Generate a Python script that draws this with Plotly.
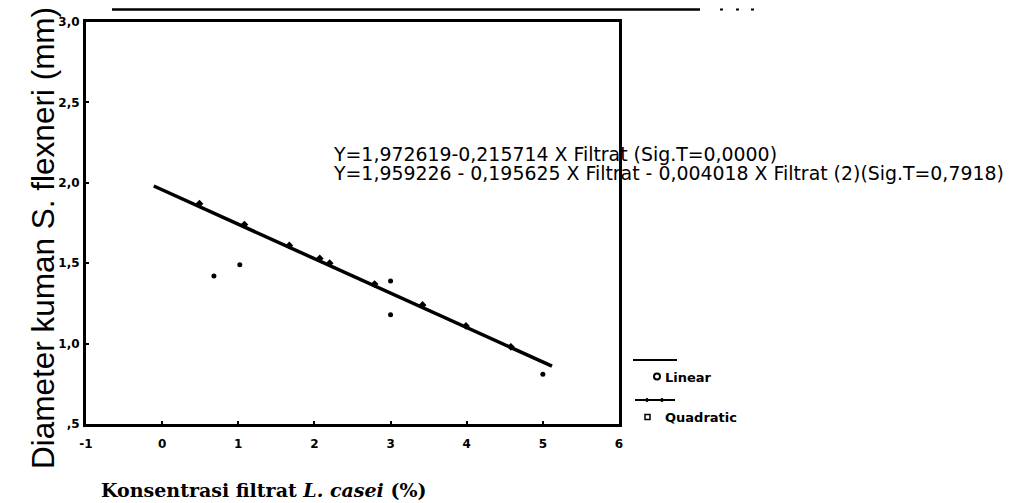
import plotly.graph_objects as go

obs_x = [0.68, 1.02, 3.0, 3.0, 5.0]
obs_y = [1.42, 1.49, 1.39, 1.18, 0.81]

# Fitted line endpoints
fit_x = [-0.11, 5.12]
fit_y = [1.98, 0.86]

# Small vertex markers along the quadratic fit
quad_x = [0.49, 1.08, 1.67, 2.07, 2.2, 2.79, 3.42, 3.99, 4.58]
quad_y = [1.87, 1.74, 1.61, 1.53, 1.50, 1.37, 1.24, 1.11, 0.98]

x_ticks = [-1, 0, 1, 2, 3, 4, 5, 6]
y_ticks = [0.5, 1.0, 1.5, 2.0, 2.5, 3.0]
y_tick_labels = [",5", "1,0", "1,5", "2,0", "2,5", "3,0"]

eq1 = "Y=1,972619-0,215714 X Filtrat (Sig.T=0,0000)"
eq2 = "Y=1,959226 - 0,195625 X Filtrat - 0,004018 X Filtrat (2)(Sig.T=0,7918)"

# page has an 8px body margin; work in page pixels and convert
OFF = 8
W, H = 1011 - OFF, 503 - OFF
L, T = 86 - OFF, 22 - OFF
PW, PH = 533, 402
R = W - L - PW
B = H - T - PH

def px(xp):
    return (xp - OFF - L) / PW

def py(yp):
    return (H - B - (yp - OFF)) / PH

fig = go.Figure()
fig.add_trace(go.Scatter(x=fit_x, y=fit_y, mode="lines",
                         line=dict(color="black", width=3.5), showlegend=False))
fig.add_trace(go.Scatter(x=quad_x, y=quad_y, mode="markers",
                         marker=dict(color="black", size=6, symbol="diamond"), showlegend=False))
fig.add_trace(go.Scatter(x=obs_x, y=obs_y, mode="markers",
                         marker=dict(color="black", size=5), showlegend=False))

tickfont = dict(family="DejaVu Sans", size=12, color="black", weight="bold")

fig.update_layout(
    width=W, height=H,
    margin=dict(l=L, r=R, t=T, b=B, autoexpand=False),
    paper_bgcolor="white", plot_bgcolor="white",
    showlegend=False,
    xaxis=dict(range=[-1, 6], tickvals=x_ticks, ticktext=[str(v) for v in x_ticks],
               showgrid=False, zeroline=False, showline=True, linecolor="black", linewidth=3,
               mirror=True, ticks="inside", ticklen=3, tickwidth=2, tickcolor="black",
               tickfont=tickfont, ticklabelstandoff=7),
    yaxis=dict(range=[0.5, 3.0], tickvals=y_ticks, ticktext=y_tick_labels,
               showgrid=False, zeroline=False, showline=True, linecolor="black", linewidth=3,
               mirror=True, ticks="inside", ticklen=3, tickwidth=2, tickcolor="black",
               tickfont=tickfont, ticklabelstandoff=1),
)

anns = []
# y-axis title
anns.append(dict(text="Diameter kuman S. flexneri (mm)", x=px(43), y=py(238), xref="paper", yref="paper",
                 textangle=-90, showarrow=False, xanchor="center", yanchor="middle",
                 font=dict(family="Liberation Sans, Arial", size=31.5, color="black")))
# x-axis title
anns.append(dict(text="<b>Konsentrasi filtrat <i>L. casei</i> (%)</b>", x=px(99), y=py(490),
                 xref="paper", yref="paper", showarrow=False, xanchor="left", yanchor="middle",
                 font=dict(family="DejaVu Serif", size=19, color="black")))
# equations
eqfont = dict(family="DejaVu Sans", size=18.9, color="black")
anns.append(dict(text=eq1, x=px(331), y=py(154), xref="paper", yref="paper", showarrow=False,
                 xanchor="left", yanchor="middle", font=eqfont))
anns.append(dict(text=eq2, x=px(331), y=py(173), xref="paper", yref="paper", showarrow=False,
                 xanchor="left", yanchor="middle", font=eqfont))
# legend labels
legfont = dict(family="DejaVu Sans", size=13, color="black", weight="bold")
anns.append(dict(text="Linear", x=px(663), y=py(377), xref="paper", yref="paper", showarrow=False,
                 xanchor="left", yanchor="middle", font=legfont))
anns.append(dict(text="Quadratic", x=px(663), y=py(417), xref="paper", yref="paper", showarrow=False,
                 xanchor="left", yanchor="middle", font=legfont))
fig.update_layout(annotations=anns)

shapes = []
# scanned frame line at top
shapes.append(dict(type="line", xref="paper", yref="paper", x0=px(112), x1=px(700), y0=py(9.5), y1=py(9.5),
                   line=dict(color="black", width=2.5)))
for xx in (720, 736, 751):
    shapes.append(dict(type="line", xref="paper", yref="paper", x0=px(xx), x1=px(xx + 3), y0=py(9.5), y1=py(9.5),
                       line=dict(color="black", width=2)))
# legend glyphs
shapes.append(dict(type="line", xref="paper", yref="paper", x0=px(633), x1=px(677), y0=py(360), y1=py(360),
                   line=dict(color="black", width=2)))
shapes.append(dict(type="circle", xref="paper", yref="paper", x0=px(654), x1=px(660), y0=py(373.5), y1=py(379.5),
                   line=dict(color="black", width=2)))
shapes.append(dict(type="line", xref="paper", yref="paper", x0=px(635), x1=px(675), y0=py(400), y1=py(400),
                   line=dict(color="black", width=2)))
for xx in (647, 662):
    shapes.append(dict(type="circle", xref="paper", yref="paper", x0=px(xx - 1.5), x1=px(xx + 1.5),
                       y0=py(398.5), y1=py(401.5), fillcolor="black", line=dict(color="black", width=1)))
shapes.append(dict(type="rect", xref="paper", yref="paper", x0=px(645), x1=px(650), y0=py(414.5), y1=py(419.5),
                   line=dict(color="black", width=1.5)))
fig.update_layout(shapes=shapes)

fig.write_html("out.html")
